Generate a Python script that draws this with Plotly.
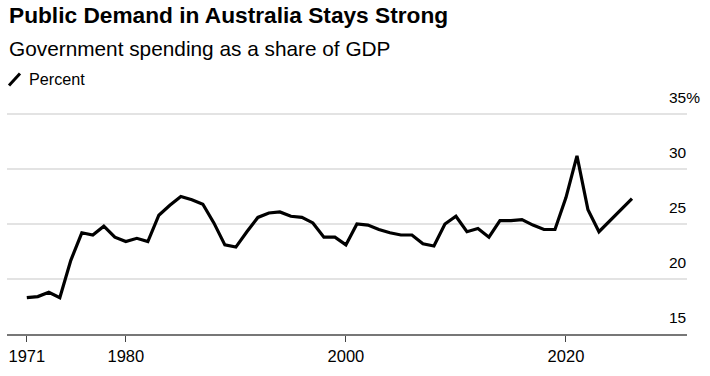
import plotly.graph_objects as go

years = list(range(1971, 2027))
values = [18.3, 18.4, 18.8, 18.3, 21.7, 24.2, 24.0, 24.8, 23.8, 23.4,
          23.7, 23.4, 25.8, 26.7, 27.5, 27.2, 26.8, 25.1, 23.1, 22.9,
          24.3, 25.6, 26.0, 26.1, 25.7, 25.6, 25.1, 23.8, 23.8, 23.1,
          25.0, 24.9, 24.5, 24.2, 24.0, 24.0, 23.2, 23.0, 25.0, 25.7,
          24.3, 24.6, 23.8, 25.3, 25.3, 25.4, 24.9, 24.5, 24.5, 27.4,
          31.2, 26.3, 24.3, 25.3, 26.3, 27.3]
x_tick_vals = [1971, 1980, 2000, 2020]
x_tick_text = ["1971", "1980", "2000", "2020"]
y_tick_vals = [15, 20, 25, 30, 35]
y_tick_text = ["15", "20", "25", "30", "35%"]

title = "Public Demand in Australia Stays Strong"
subtitle = "Government spending as a share of GDP"
legend_label = "Percent"

W, H = 710, 376
L, R, T, B = 7, 23, 102.65, 41.5
PW, PH = W - L - R, H - T - B
FONT = "Liberation Sans, Arial, sans-serif"


def px(x):
    return (x - L) / PW


def py(y):
    return 1 - (y - T) / PH


fig = go.Figure()
fig.add_trace(go.Scatter(x=years, y=values, mode="lines",
                         line=dict(color="#000000", width=3.2),
                         hoverinfo="x+y", showlegend=False))

ann = []
ann.append(dict(text="<b>" + title + "</b>", xref="paper", yref="paper",
                x=px(7), y=py(29), xanchor="left", yanchor="bottom",
                showarrow=False, font=dict(family=FONT, size=22.7, color="#000")))
ann.append(dict(text=subtitle, xref="paper", yref="paper",
                x=px(7), y=py(61), xanchor="left", yanchor="bottom",
                showarrow=False, font=dict(family=FONT, size=20.8, color="#000")))
ann.append(dict(text=legend_label, xref="paper", yref="paper",
                x=px(27), y=py(79), xanchor="left", yanchor="middle",
                showarrow=False, font=dict(family=FONT, size=16.2, color="#000")))
for v, t in zip(y_tick_vals, y_tick_text):
    ann.append(dict(text=t, xref="paper", yref="y", x=px(667), y=v,
                    xanchor="left", yanchor="bottom", yshift=6,
                    showarrow=False, font=dict(family=FONT, size=15.5, color="#000")))

fig.update_layout(
    width=W, height=H,
    margin=dict(l=L, r=R, t=T, b=B, pad=0),
    paper_bgcolor="#ffffff", plot_bgcolor="#ffffff",
    annotations=ann,
    shapes=[dict(type="line", xref="paper", yref="paper",
                 x0=px(9), y0=py(85), x1=px(20), y1=py(73),
                 line=dict(color="#000", width=3))],
    xaxis=dict(range=[1969.2, 2031], tickmode="array", tickvals=x_tick_vals,
               ticktext=x_tick_text, ticks="outside", ticklen=6, tickwidth=1,
               tickcolor="#444", showgrid=False, zeroline=False,
               showline=True, linecolor="#777", linewidth=2,
               tickfont=dict(family=FONT, size=16.5, color="#000")),
    yaxis=dict(range=[15, 36], tickmode="array", tickvals=y_tick_vals,
               showticklabels=False,
               showgrid=True, gridcolor="#e3e3e3", gridwidth=1.6,
               zeroline=False, showline=False),
    hovermode="closest",
)

fig.write_html("out.html", config={"displayModeBar": False},
               post_script="document.body.style.margin='0';document.body.style.overflow='hidden';")
